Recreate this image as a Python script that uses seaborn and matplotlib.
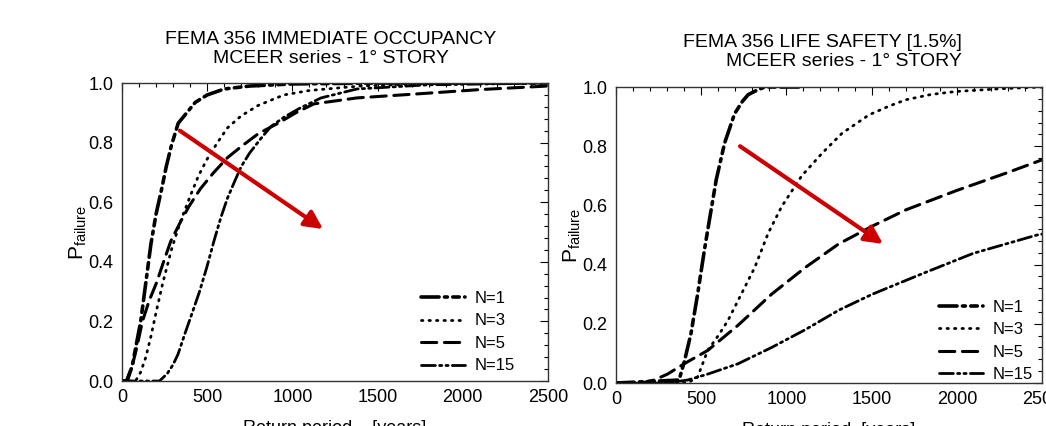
#!/usr/bin/env python3
"""Failure probability vs return period, FEMA 356 IO / LS, two panels."""

import pandas as pd
import seaborn as sns
import matplotlib.pyplot as plt
from matplotlib.ticker import MultipleLocator

# --- data ---
LABELS = ['N=1', 'N=3', 'N=5', 'N=15']

# Immediate Occupancy panel
IO_T_N1 = [0, 30, 60, 90, 110, 140, 170, 200, 235, 260, 290, 330, 380, 430, 500, 600, 750, 1000, 1500, 2000, 2500]
IO_P_N1 = [0, 0, 0.05, 0.14, 0.20, 0.33, 0.46, 0.56, 0.65, 0.72, 0.79, 0.865, 0.90, 0.935, 0.96, 0.98, 0.99, 0.997, 1.0, 1.0, 1.0]
IO_T_N3 = [0, 80, 110, 140, 170, 200, 240, 290, 340, 400, 450, 500, 560, 620, 700, 800, 950, 1100, 1400, 1800, 2500]
IO_P_N3 = [0, 0, 0.03, 0.08, 0.15, 0.23, 0.33, 0.44, 0.53, 0.62, 0.69, 0.745, 0.80, 0.85, 0.89, 0.925, 0.96, 0.975, 0.99, 0.998, 1.0]
IO_T_N5 = [0, 25, 60, 90, 120, 160, 203, 250, 287, 340, 392, 460, 539, 620, 707, 800, 916, 1020, 1126, 1378, 1797, 2100, 2500]
IO_P_N5 = [0, 0, 0.05, 0.12, 0.20, 0.27, 0.33, 0.41, 0.47, 0.53, 0.585, 0.645, 0.70, 0.75, 0.79, 0.83, 0.865, 0.90, 0.93, 0.95, 0.966, 0.978, 0.99]
IO_T_N15 = [0, 220, 266, 300, 329, 370, 413, 455, 497, 540, 581, 620, 665, 700, 749, 810, 874, 950, 1042, 1168, 1378, 1797, 2500]
IO_P_N15 = [0, 0, 0.025, 0.055, 0.09, 0.16, 0.23, 0.30, 0.38, 0.47, 0.55, 0.615, 0.675, 0.72, 0.765, 0.81, 0.854, 0.885, 0.915, 0.95, 0.98, 0.994, 1.0]

# Life Safety panel
LS_T_N1 = [0, 370, 400, 440, 479, 519, 548, 588, 637, 696, 740, 775, 830, 873, 950, 1080]
LS_P_N1 = [0, 0.01, 0.07, 0.167, 0.30, 0.45, 0.55, 0.686, 0.81, 0.91, 0.95, 0.974, 0.99, 1.0, 1.0, 1.0]
LS_T_N3 = [0, 420, 479, 538, 600, 656, 735, 814, 893, 972, 1090, 1209, 1327, 1485, 1600, 1701, 1850, 1997, 2250, 2500]
LS_P_N3 = [0, 0, 0.02, 0.11, 0.16, 0.21, 0.30, 0.39, 0.506, 0.596, 0.70, 0.776, 0.844, 0.906, 0.935, 0.957, 0.975, 0.985, 0.994, 1.0]
LS_T_N5 = [0, 150, 223, 302, 400, 538, 716, 913, 1110, 1307, 1504, 1701, 1997, 2293, 2500]
LS_P_N5 = [0, 0, 0.01, 0.03, 0.065, 0.11, 0.195, 0.30, 0.39, 0.47, 0.53, 0.585, 0.65, 0.71, 0.754]
LS_T_N15 = [0, 300, 420, 538, 716, 913, 1110, 1307, 1504, 1800, 2096, 2470, 2500]
LS_P_N15 = [0, 0, 0.01, 0.03, 0.065, 0.12, 0.18, 0.246, 0.30, 0.37, 0.438, 0.50, 0.503]

# red arrow (start, end) in data units
IO_ARROW = ((340, 0.84), (1180, 0.51))
LS_ARROW = ((728, 0.80), (1567, 0.47))

DASHES = {
    'N=1': (5, 1.5, 0.8, 1.5, 1.8, 1.5),
    'N=3': (0.5, 2.2),
    'N=5': (5, 2.5),
    'N=15': (5, 1.5, 0.8, 1.5, 0.8, 1.5),
}
WIDTHS = {'N=1': 2.6, 'N=3': 2.0, 'N=5': 2.2, 'N=15': 2.0}


def build_frame(ts, ps):
    rows = []
    for lab, t, p in zip(LABELS, ts, ps):
        rows.append(pd.DataFrame({'T': t, 'P': p, 'N': lab}))
    return pd.concat(rows, ignore_index=True)


def draw_panel(ax, df, arrow, legend_loc, xlabel):
    sns.lineplot(data=df, x='T', y='P', style='N', style_order=LABELS,
                 dashes=DASHES, color='black', estimator=None, sort=False,
                 legend=False, ax=ax)
    lines = ax.get_lines()
    for ln, lab in zip(lines, LABELS):
        ln.set_linewidth(WIDTHS[lab])
        ln.set_dash_capstyle('round')
    ax.legend(lines, LABELS, frameon=False, loc=legend_loc, fontsize=12,
              handlelength=2.6, handletextpad=0.6, labelspacing=0.45,
              borderaxespad=0.3, labelcolor='black')

    ax.annotate('', xy=arrow[1], xytext=arrow[0],
                arrowprops=dict(arrowstyle='-|>,head_length=0.9,head_width=0.45',
                                color='#cc0000', lw=3, shrinkA=0, shrinkB=0))

    ax.set_xlim(0, 2500)
    ax.set_ylim(0, 1.0)
    ax.xaxis.set_major_locator(MultipleLocator(500))
    ax.xaxis.set_minor_locator(MultipleLocator(100))
    ax.yaxis.set_major_locator(MultipleLocator(0.2))
    ax.yaxis.set_minor_locator(MultipleLocator(0.04))
    ax.yaxis.set_major_formatter(plt.FormatStrFormatter('%.1f'))
    ax.tick_params(which='both', direction='in', top=True, right=True,
                   labelsize=13, pad=6, colors='black')
    ax.tick_params(which='major', length=6, width=0.8)
    ax.tick_params(which='minor', length=3, width=0.8)
    for sp in ax.spines.values():
        sp.set_color('#333333')
        sp.set_linewidth(1.0)
    ax.set_xlabel(xlabel, fontsize=13, labelpad=10, color='black')
    ax.set_ylabel(r'$\mathregular{P_{failure}}$', fontsize=15, labelpad=0,
                  color='black')


sns.set_theme(style='white')
plt.rcParams['font.family'] = ['Liberation Sans', 'DejaVu Sans']

fig = plt.figure(figsize=(10.46, 4.26), dpi=100)
ax1 = fig.add_axes([0.1166, 0.1056, 0.4073, 0.6995])
ax2 = fig.add_axes([0.5889, 0.1009, 0.4073, 0.6948])

io = build_frame([IO_T_N1, IO_T_N3, IO_T_N5, IO_T_N15],
                 [IO_P_N1, IO_P_N3, IO_P_N5, IO_P_N15])
ls = build_frame([LS_T_N1, LS_T_N3, LS_T_N5, LS_T_N15],
                 [LS_P_N1, LS_P_N3, LS_P_N5, LS_P_N15])

draw_panel(ax1, io, IO_ARROW, (0.687, 0.003), 'Return period    [years]')
draw_panel(ax2, ls, LS_ARROW, (0.743, -0.02), 'Return period  [years]')

ax1.text(0.49, 1.054, 'FEMA 356 IMMEDIATE OCCUPANCY\nMCEER series - 1° STORY',
         transform=ax1.transAxes, ha='center', va='bottom', color='black',
         multialignment='center', fontsize=14, linespacing=1.15)
ax2.text(0.4836, 1.057, 'FEMA 356 LIFE SAFETY [1.5%]\nMCEER series - 1° STORY',
         transform=ax2.transAxes, ha='center', va='bottom', color='black',
         multialignment='right', fontsize=14, linespacing=1.15)

fig.savefig('out.png', dpi=100)
